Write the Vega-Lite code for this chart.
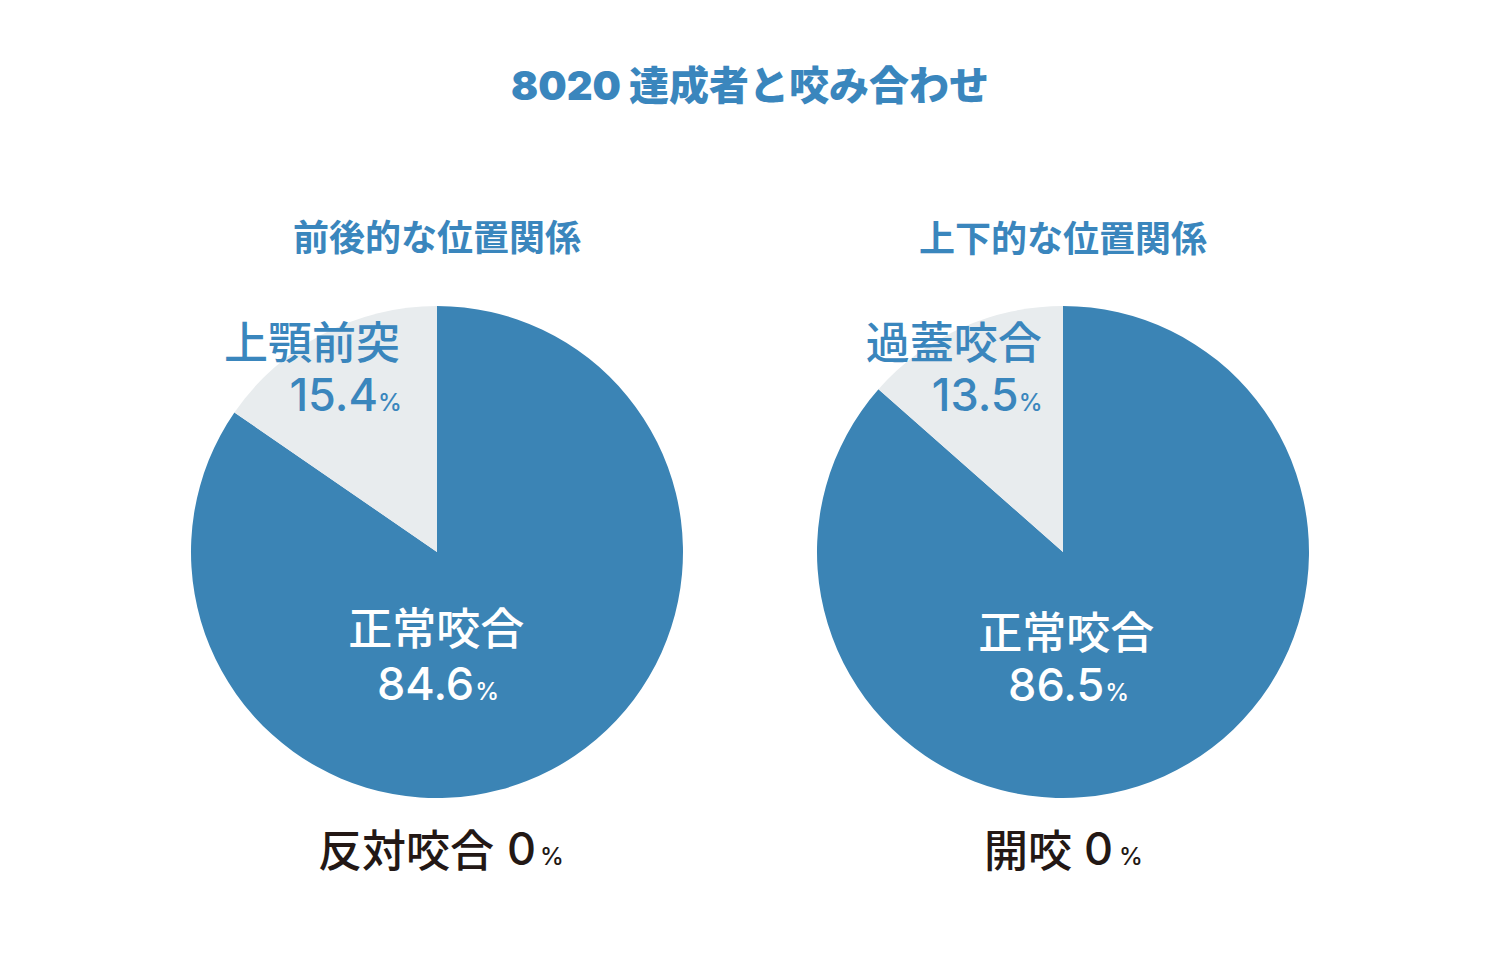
{
  "$schema": "https://vega.github.io/schema/vega-lite/v6.json",
  "background": "white",
  "padding": {"left": 187, "top": 68, "right": 0, "bottom": 30},
  "title": {"text": "8020 達成者と咬み合わせ", "anchor": "middle", "fontSize": 40, "font": "Inter, Noto Sans CJK JP", "fontWeight": 900, "color": "#3a86bd", "baseline": "alphabetic", "offset": 82},
  "config": {"view": {"stroke": null}},
  "spacing": 126,
  "resolve": {"scale": {"theta": "independent", "color": "independent"}},
  "hconcat": [
    {
      "width": 500, "height": 500,
      "title": {"text": "前後的な位置関係", "anchor": "middle", "fontSize": 36, "font": "Noto Sans CJK JP", "fontWeight": "bold", "color": "#3a86bd", "baseline": "alphabetic", "offset": 14},
      "data": {"values": [
        {"category": "正常咬合", "value": 84.6, "rank": 1},
        {"category": "上顎前突", "value": 15.4, "rank": 2},
        {"category": "反対咬合", "value": 0, "rank": 3}
      ]},
      "encoding": {
        "theta": {"field": "value", "type": "quantitative", "stack": true},
        "order": {"field": "rank", "type": "quantitative"},
        "detail": {"field": "category", "type": "nominal"}
      },
      "layer": [
        {"mark": {"type": "arc", "outerRadius": 246}, "encoding": {"color": {"field": "category", "type": "nominal", "scale": {"domain": ["正常咬合", "上顎前突", "反対咬合"], "range": ["#3b84b5", "#e8ecee", "#e8ecee"]}, "legend": null}}},
        {"mark": {"type": "text", "radius": 110, "align": "center", "baseline": "middle", "dx": -52, "dy": -17, "font": "Noto Sans CJK JP", "fontSize": 44, "fontWeight": 500, "color": "white"},
         "encoding": {"text": {"condition": {"test": "datum.rank == 1", "field": "category", "type": "nominal"}, "value": ""}}},
        {"mark": {"type": "text", "radius": 110, "align": "right", "baseline": "alphabetic", "dx": -14, "dy": 51, "font": "Inter", "fontSize": 45, "fontWeight": 500, "color": "white"},
         "encoding": {"text": {"condition": {"test": "datum.rank == 1", "field": "value", "type": "quantitative", "format": ".1f"}, "value": ""}}},
        {"mark": {"type": "text", "radius": 110, "align": "left", "baseline": "alphabetic", "dx": -13, "dy": 51, "font": "Inter", "fontSize": 24, "fontWeight": 500, "color": "white"},
         "encoding": {"text": {"condition": {"test": "datum.rank == 1", "value": "%"}, "value": ""}}},
        {"mark": {"type": "text", "radius": 200, "align": "right", "baseline": "middle", "dx": 56, "dy": -29, "font": "Noto Sans CJK JP", "fontSize": 44, "fontWeight": 500, "color": "#3a86bd"},
         "encoding": {"text": {"condition": {"test": "datum.rank == 2", "field": "category", "type": "nominal"}, "value": ""}}},
        {"mark": {"type": "text", "radius": 200, "align": "right", "baseline": "alphabetic", "dx": 34, "dy": 36, "font": "Inter", "fontSize": 45, "fontWeight": 500, "color": "#3a86bd"},
         "encoding": {"text": {"condition": {"test": "datum.rank == 2", "field": "value", "type": "quantitative", "format": ".1f"}, "value": ""}}},
        {"mark": {"type": "text", "radius": 200, "align": "left", "baseline": "alphabetic", "dx": 34, "dy": 36, "font": "Inter", "fontSize": 24, "fontWeight": 500, "color": "#3a86bd"},
         "encoding": {"text": {"condition": {"test": "datum.rank == 2", "value": "%"}, "value": ""}}},
        {"transform": [{"joinaggregate": [{"op": "sum", "field": "value", "as": "total"}]}, {"filter": "datum.rank == 3"}],
         "mark": {"type": "text", "radius": 300, "align": "right", "baseline": "middle", "dx": 57, "dy": 2, "font": "Noto Sans CJK JP", "fontSize": 44, "fontWeight": 500, "color": "#231815"},
         "encoding": {"theta": {"field": "total", "type": "quantitative", "stack": true}, "text": {"field": "category", "type": "nominal"}}},
        {"transform": [{"joinaggregate": [{"op": "sum", "field": "value", "as": "total"}]}, {"filter": "datum.rank == 3"}],
         "mark": {"type": "text", "radius": 300, "align": "left", "baseline": "alphabetic", "dx": 70, "dy": 13, "font": "Inter", "fontSize": 45, "fontWeight": 500, "color": "#231815"},
         "encoding": {"theta": {"field": "total", "type": "quantitative", "stack": true}, "text": {"field": "value", "type": "quantitative", "format": ".0f"}}},
        {"transform": [{"joinaggregate": [{"op": "sum", "field": "value", "as": "total"}]}, {"filter": "datum.rank == 3"}],
         "mark": {"type": "text", "radius": 300, "align": "left", "baseline": "alphabetic", "dx": 103, "dy": 13, "font": "Inter", "fontSize": 24, "fontWeight": 500, "color": "#231815"},
         "encoding": {"theta": {"field": "total", "type": "quantitative", "stack": true}, "text": {"value": "%"}}}
      ]
    },
    {
      "width": 500, "height": 500,
      "title": {"text": "上下的な位置関係", "anchor": "middle", "fontSize": 36, "font": "Noto Sans CJK JP", "fontWeight": "bold", "color": "#3a86bd", "baseline": "alphabetic", "offset": 14},
      "data": {"values": [
        {"category": "正常咬合", "value": 86.5, "rank": 1},
        {"category": "過蓋咬合", "value": 13.5, "rank": 2},
        {"category": "開咬", "value": 0, "rank": 3}
      ]},
      "encoding": {
        "theta": {"field": "value", "type": "quantitative", "stack": true},
        "order": {"field": "rank", "type": "quantitative"},
        "detail": {"field": "category", "type": "nominal"}
      },
      "layer": [
        {"mark": {"type": "arc", "outerRadius": 246}, "encoding": {"color": {"field": "category", "type": "nominal", "scale": {"domain": ["正常咬合", "過蓋咬合", "開咬"], "range": ["#3b84b5", "#e8ecee", "#e8ecee"]}, "legend": null}}},
        {"mark": {"type": "text", "radius": 110, "align": "center", "baseline": "middle", "dx": -42, "dy": -16, "font": "Noto Sans CJK JP", "fontSize": 44, "fontWeight": 500, "color": "white"},
         "encoding": {"text": {"condition": {"test": "datum.rank == 1", "field": "category", "type": "nominal"}, "value": ""}}},
        {"mark": {"type": "text", "radius": 110, "align": "right", "baseline": "alphabetic", "dx": -4, "dy": 49, "font": "Inter", "fontSize": 45, "fontWeight": 500, "color": "white"},
         "encoding": {"text": {"condition": {"test": "datum.rank == 1", "field": "value", "type": "quantitative", "format": ".1f"}, "value": ""}}},
        {"mark": {"type": "text", "radius": 110, "align": "left", "baseline": "alphabetic", "dx": -3, "dy": 49, "font": "Inter", "fontSize": 24, "fontWeight": 500, "color": "white"},
         "encoding": {"text": {"condition": {"test": "datum.rank == 1", "value": "%"}, "value": ""}}},
        {"mark": {"type": "text", "radius": 200, "align": "right", "baseline": "middle", "dx": 61, "dy": -24, "font": "Noto Sans CJK JP", "fontSize": 44, "fontWeight": 500, "color": "#3a86bd"},
         "encoding": {"text": {"condition": {"test": "datum.rank == 2", "field": "category", "type": "nominal"}, "value": ""}}},
        {"mark": {"type": "text", "radius": 200, "align": "right", "baseline": "alphabetic", "dx": 38, "dy": 41, "font": "Inter", "fontSize": 45, "fontWeight": 500, "color": "#3a86bd"},
         "encoding": {"text": {"condition": {"test": "datum.rank == 2", "field": "value", "type": "quantitative", "format": ".1f"}, "value": ""}}},
        {"mark": {"type": "text", "radius": 200, "align": "left", "baseline": "alphabetic", "dx": 38, "dy": 41, "font": "Inter", "fontSize": 24, "fontWeight": 500, "color": "#3a86bd"},
         "encoding": {"text": {"condition": {"test": "datum.rank == 2", "value": "%"}, "value": ""}}},
        {"transform": [{"joinaggregate": [{"op": "sum", "field": "value", "as": "total"}]}, {"filter": "datum.rank == 3"}],
         "mark": {"type": "text", "radius": 300, "align": "right", "baseline": "middle", "dx": 9, "dy": 2, "font": "Noto Sans CJK JP", "fontSize": 44, "fontWeight": 500, "color": "#231815"},
         "encoding": {"theta": {"field": "total", "type": "quantitative", "stack": true}, "text": {"field": "category", "type": "nominal"}}},
        {"transform": [{"joinaggregate": [{"op": "sum", "field": "value", "as": "total"}]}, {"filter": "datum.rank == 3"}],
         "mark": {"type": "text", "radius": 300, "align": "left", "baseline": "alphabetic", "dx": 21, "dy": 13, "font": "Inter", "fontSize": 45, "fontWeight": 500, "color": "#231815"},
         "encoding": {"theta": {"field": "total", "type": "quantitative", "stack": true}, "text": {"field": "value", "type": "quantitative", "format": ".0f"}}},
        {"transform": [{"joinaggregate": [{"op": "sum", "field": "value", "as": "total"}]}, {"filter": "datum.rank == 3"}],
         "mark": {"type": "text", "radius": 300, "align": "left", "baseline": "alphabetic", "dx": 56, "dy": 13, "font": "Inter", "fontSize": 24, "fontWeight": 500, "color": "#231815"},
         "encoding": {"theta": {"field": "total", "type": "quantitative", "stack": true}, "text": {"value": "%"}}}
      ]
    }
  ]
}
